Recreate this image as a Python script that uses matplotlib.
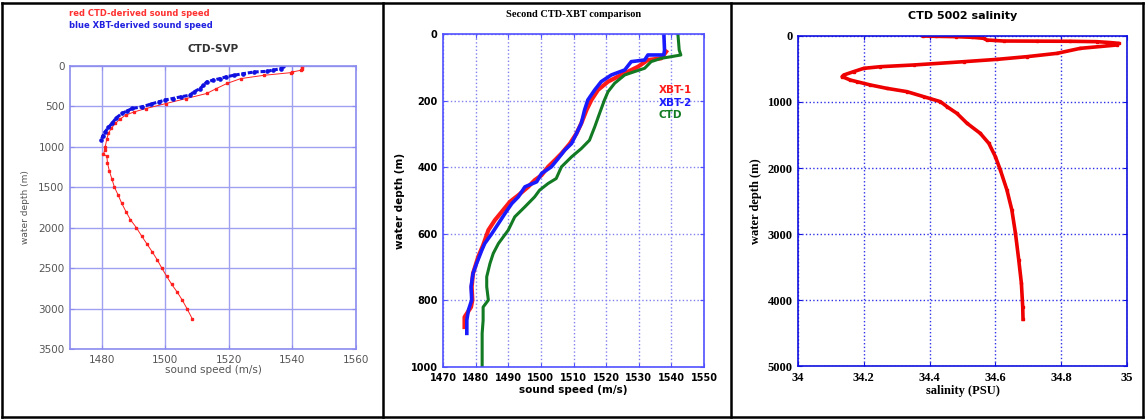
import matplotlib
matplotlib.use("Agg")
import matplotlib.pyplot as plt
from matplotlib.lines import Line2D

# ---- panel 1: CTD-SVP ----
svp_ctd_depth = [0, 12, 40, 53, 74, 82, 115, 156, 216, 280, 340, 402, 464, 526, 570, 608,
                 660, 710, 770, 833, 900, 997, 1040, 1086, 1119, 1200, 1300, 1400, 1500,
                 1600, 1700, 1800, 1900, 2000, 2100, 2200, 2300, 2400, 2500, 2600, 2700,
                 2800, 2900, 3000, 3128]
svp_ctd_speed = [1543.0, 1543.1, 1543.0, 1542.6, 1540.0, 1539.6, 1531.0, 1523.7, 1519.4,
                 1516.0, 1513.0, 1506.6, 1500.2, 1493.9, 1490.0, 1487.5, 1485.6, 1484.3,
                 1483.0, 1482.1, 1481.6, 1481.1, 1481.0, 1480.5, 1481.6, 1481.8, 1482.4,
                 1483.2, 1484.0, 1485.2, 1486.3, 1487.6, 1489.0, 1490.9, 1492.5, 1494.2,
                 1495.9, 1497.5, 1498.9, 1500.4, 1502.0, 1503.8, 1505.4, 1506.8, 1508.5]
svp_xbt_depth = [0, 33, 50, 66, 74, 95, 115, 135, 156, 175, 197, 240, 279, 320, 361, 380,
                 402, 420, 443, 470, 504, 525, 555, 586, 640, 709, 760, 812, 860, 914]
svp_xbt_speed = [1536.9, 1536.4, 1534.0, 1532.0, 1527.9, 1524.5, 1521.5, 1519.0, 1517.2,
                 1515.0, 1513.0, 1512.0, 1510.9, 1509.0, 1507.7, 1505.0, 1502.3, 1500.0,
                 1498.0, 1495.5, 1492.8, 1489.6, 1488.0, 1486.4, 1484.6, 1483.2, 1482.1,
                 1481.1, 1480.4, 1479.8]

# ---- panel 2: second CTD-XBT comparison ----
xbt1_depth = [53, 73, 78, 98, 113, 128, 143, 168, 198, 228, 268, 299, 329, 359, 379, 399,
              424, 439, 459, 484, 504, 534, 559, 589, 634, 669, 719, 759, 799, 820, 850, 880]
xbt1_speed = [1538.4, 1536.9, 1532.8, 1529.8, 1526.7, 1523.6, 1520.6, 1517.5, 1515.5,
              1514.0, 1512.4, 1510.9, 1508.9, 1506.3, 1504.3, 1502.2, 1500.2, 1498.1,
              1496.1, 1493.1, 1490.5, 1488.0, 1485.9, 1483.9, 1482.3, 1480.8, 1479.2,
              1478.8, 1479.0, 1478.6, 1476.6, 1476.6]
xbt2_depth = [0, 48, 63, 63, 78, 83, 108, 123, 143, 168, 198, 228, 268, 299, 329, 349, 374,
              399, 419, 444, 459, 489, 509, 539, 569, 599, 629, 649, 689, 719, 759, 799,
              829, 859, 899]
xbt2_speed = [1537.7, 1537.9, 1537.7, 1532.8, 1531.8, 1527.7, 1525.7, 1521.6, 1518.5,
              1516.5, 1514.4, 1513.4, 1512.4, 1510.9, 1509.4, 1507.3, 1505.3, 1503.2,
              1500.2, 1498.7, 1495.1, 1493.1, 1491.1, 1489.0, 1487.0, 1485.0, 1482.8,
              1481.9, 1480.3, 1479.2, 1478.6, 1478.8, 1477.8, 1477.3, 1477.3]
ctd2_depth = [0, 48, 63, 68, 73, 83, 103, 113, 123, 148, 173, 198, 238, 279, 319, 344, 369,
              399, 434, 449, 469, 489, 519, 549, 589, 629, 659, 689, 729, 759, 799, 820,
              860, 899, 1000]
ctd2_speed = [1542.0, 1542.4, 1542.9, 1540.0, 1536.9, 1533.8, 1531.8, 1528.7, 1525.7,
              1522.6, 1520.6, 1519.5, 1518.0, 1516.5, 1514.9, 1512.4, 1509.4, 1506.3,
              1504.7, 1502.2, 1499.6, 1498.1, 1495.1, 1492.0, 1490.0, 1487.0, 1485.4,
              1484.4, 1483.4, 1483.4, 1483.9, 1482.3, 1482.3, 1482.0, 1482.0]
series_labels = ["XBT-1", "XBT-2", "CTD"]

# ---- panel 3: CTD 5002 salinity ----
sal_depth = [0, 5, 10, 20, 35, 61, 76, 78, 80, 86, 100, 111, 136, 187, 263, 313, 354, 389,
             439, 465, 490, 540, 591, 616, 667, 692, 742, 793, 843, 919, 995, 1071, 1172,
             1323, 1475, 1626, 1828, 2030, 2333, 2636, 2990, 3394, 3747, 4101, 4293]
sal_value = [34.38, 34.42, 34.48, 34.53, 34.564, 34.574, 34.625, 34.726, 34.828, 34.909,
             34.95, 34.975, 34.97, 34.858, 34.787, 34.696, 34.605, 34.504, 34.352, 34.25,
             34.2, 34.169, 34.139, 34.134, 34.159, 34.179, 34.22, 34.27, 34.331, 34.382,
             34.433, 34.453, 34.483, 34.514, 34.554, 34.58, 34.6, 34.615, 34.635, 34.65,
             34.661, 34.671, 34.679, 34.683, 34.684]

W, H = 1145, 419
fig = plt.figure(figsize=(W / 100, H / 100), dpi=100)
fig.patch.set_facecolor("white")


def box(l, r, t, b):
    return [l / W, 1 - b / H, (r - l) / W, (b - t) / H]


def style_axes(ax, frame, grid, ls):
    for s in ax.spines.values():
        s.set_color(frame)
        s.set_linewidth(1.2)
    ax.grid(True, color=grid, linestyle=ls, linewidth=1.0)
    ax.set_axisbelow(True)
    ax.tick_params(direction="in", length=3, color=frame, top=True, right=True, pad=4)


# panel 1
ax1 = fig.add_axes(box(70, 356, 66, 349))
ax1.plot(svp_ctd_speed, svp_ctd_depth, color="#ff2020", lw=0.7, marker="s", ms=1.8,
         mec="#ff2020")
ax1.plot(svp_xbt_speed, svp_xbt_depth, color="#1010e0", lw=2.2, marker="o", ms=2.3,
         linestyle=(0, (1.5, 0.6)))
ax1.set_xlim(1470, 1560)
ax1.set_ylim(3500, 0)
ax1.set_xticks([1480, 1500, 1520, 1540, 1560])
ax1.set_yticks(range(0, 3501, 500))
style_axes(ax1, "#8c8cf0", "#a0a0f0", "-")
for lab in ax1.get_xticklabels() + ax1.get_yticklabels():
    lab.set_fontsize(7.5)
    lab.set_color("#555555")
ax1.set_title("CTD-SVP", fontsize=7.5, fontweight="bold", color="#333333", pad=10)
ax1.set_xlabel("sound speed (m/s)", fontsize=7.5, color="#555555", labelpad=0)
ax1.set_ylabel("water depth (m)", fontsize=6.5, color="#555555", labelpad=6)
fig.text(69 / W, 1 - 13 / H, "red CTD-derived sound speed", color="#ff3030",
         fontsize=6, fontweight="bold", va="center")
fig.text(69 / W, 1 - 25 / H, "blue XBT-derived sound speed", color="#2020e0",
         fontsize=6, fontweight="bold", va="center")

# panel 2
ax2 = fig.add_axes(box(443, 704, 34, 367))
colors2 = ["#ff1a1a", "#1a1aff", "#117a22"]
ax2.plot(xbt1_speed, xbt1_depth, color=colors2[0], lw=3.0)
ax2.plot(xbt2_speed, xbt2_depth, color=colors2[1], lw=2.6)
ax2.plot(ctd2_speed, ctd2_depth, color=colors2[2], lw=2.2)
ax2.set_xlim(1470, 1550)
ax2.set_ylim(1000, 0)
ax2.set_xticks(range(1470, 1551, 10))
ax2.set_yticks(range(0, 1001, 200))
style_axes(ax2, "#5050ff", "#8080f0", ":")
for lab in ax2.get_xticklabels() + ax2.get_yticklabels():
    lab.set_fontsize(7)
    lab.set_fontweight("bold")
ax2.set_title("Second CTD-XBT comparison", fontsize=7.5, fontweight="bold",
              family="Liberation Serif", pad=12)
ax2.set_xlabel("sound speed (m/s)", fontsize=7.5, fontweight="bold", labelpad=2)
ax2.set_ylabel("water depth (m)", fontsize=7.5, fontweight="bold", labelpad=4)
for i, (name, c) in enumerate(zip(series_labels, colors2)):
    ax2.text(0.825, 0.832 - i * 0.038, name, color=c, fontsize=7.5, fontweight="bold",
             va="center", transform=ax2.transAxes)

# panel 3
ax3 = fig.add_axes(box(798, 1127, 36, 366))
ax3.plot(sal_value, sal_depth, color="#ee0000", lw=2.6, marker="s", ms=2.0)
ax3.set_xlim(34, 35)
ax3.set_ylim(5000, 0)
ax3.set_xticks([34, 34.2, 34.4, 34.6, 34.8, 35])
ax3.set_xticklabels(["34", "34.2", "34.4", "34.6", "34.8", "35"])
ax3.set_yticks(range(0, 5001, 1000))
style_axes(ax3, "#1010e0", "#3030e8", ":")
for lab in ax3.get_xticklabels() + ax3.get_yticklabels():
    lab.set_fontsize(9)
    lab.set_fontweight("bold")
    lab.set_family("Liberation Serif")
ax3.set_title("CTD 5002 salinity", fontsize=8, fontweight="bold", pad=12)
ax3.set_xlabel("salinity (PSU)", fontsize=9, fontweight="bold", family="Liberation Serif",
               labelpad=1)
ax3.set_ylabel("water depth (m)", fontsize=9, fontweight="bold",
               family="Liberation Serif", labelpad=4)

# black frame and dividers
for x0, y0, x1, y1 in [(2, 3, 1143, 3), (2, 417, 1143, 417), (2, 3, 2, 417),
                       (1143, 3, 1143, 417), (383, 3, 383, 417), (731, 3, 731, 417)]:
    fig.add_artist(Line2D([x0 / W, x1 / W], [1 - y0 / H, 1 - y1 / H], color="black",
                          lw=1.8))

fig.savefig("out.png", dpi=100)
